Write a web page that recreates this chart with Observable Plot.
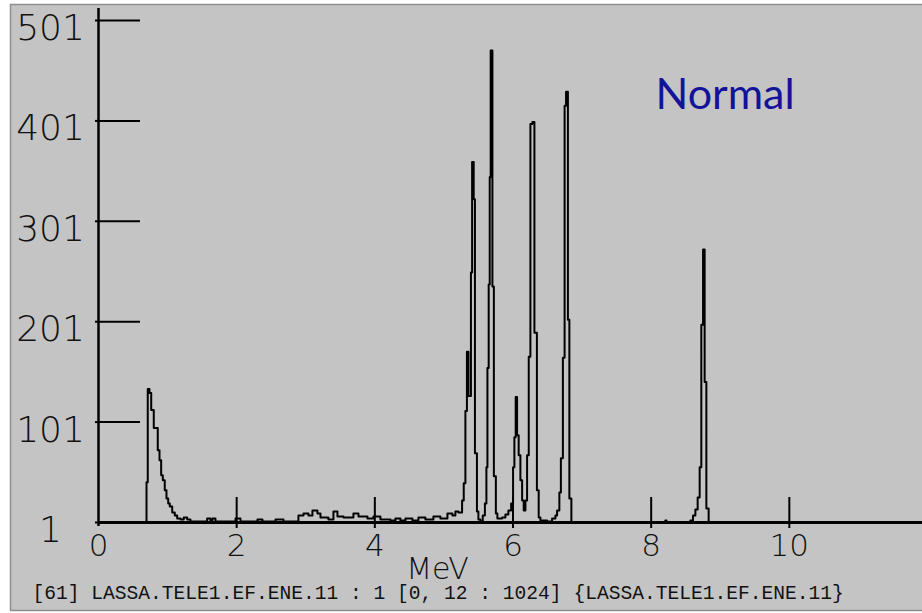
<!DOCTYPE html>
<html>
<head>
<meta charset="utf-8">
<script src="https://cdn.jsdelivr.net/npm/d3@7"></script>
<script src="https://cdn.jsdelivr.net/npm/@observablehq/plot@0.6"></script>
<style>
  html, body { margin: 0; padding: 0; background: #ffffff; }
  #chart svg { display: block; }
</style>
</head>
<body>
<div id="chart"></div>
<script>
// Spectrum: energy (MeV, left edge of each step) and counts
const energy = [
  0, 0.695, 0.713, 0.738, 0.763, 0.800, 0.858, 0.883, 0.907, 0.931,
  0.959, 0.984, 1.009, 1.032, 1.067, 1.104, 1.139, 1.187, 1.234, 1.284,
  1.331, 1.573, 1.621, 1.650, 1.693, 1.983, 2.055, 2.301, 2.373, 2.562,
  2.677, 2.894, 2.967, 3.039, 3.097, 3.169, 3.213, 3.328, 3.401, 3.459,
  3.546, 3.690, 3.763, 3.893, 3.980, 4.081, 4.226, 4.298, 4.370, 4.443,
  4.544, 4.631, 4.732, 4.848, 4.949, 5.051, 5.123, 5.166, 5.210, 5.263,
  5.287, 5.311, 5.333, 5.355, 5.391, 5.408, 5.431, 5.449, 5.478, 5.499,
  5.528, 5.562, 5.593, 5.615, 5.630, 5.648, 5.663, 5.677, 5.702, 5.723,
  5.752, 5.774, 5.842, 5.890, 5.933, 5.973, 6.001, 6.020, 6.039, 6.059,
  6.082, 6.107, 6.132, 6.155, 6.180, 6.204, 6.228, 6.252, 6.281, 6.310,
  6.346, 6.372, 6.397, 6.493, 6.566, 6.614, 6.638, 6.671, 6.693, 6.722,
  6.747, 6.768, 6.795, 6.816, 6.845, 8.205, 8.222, 8.567, 8.606, 8.640,
  8.673, 8.702, 8.726, 8.751, 8.774, 8.799, 8.832, 12
];
const counts = [
  1, 41, 134, 130, 113, 95, 73, 63, 48, 43,
  33, 25, 20, 17, 11, 8, 5, 4, 6, 4,
  2, 5, 2, 5, 2, 5, 2, 4, 2, 4,
  2, 8, 10, 8, 13, 10, 6, 4, 12, 7,
  6, 10, 7, 5, 7, 4, 3, 5, 3, 5,
  3, 6, 4, 7, 5, 10, 8, 12, 11, 23,
  40, 112, 171, 127, 250, 360, 323, 70, 12, 4,
  2, 8, 20, 56, 155, 238, 345, 471, 236, 47,
  10, 5, 6, 9, 13, 20, 56, 86, 126, 88,
  68, 43, 23, 13, 23, 68, 166, 398, 400, 190,
  33, 6, 3, 2, 5, 8, 13, 31, 65, 165,
  416, 430, 203, 25, 1, 3, 1, 3, 8, 14,
  26, 56, 198, 273, 141, 15, 1, 1
];
const xTicks = [0, 2, 4, 6, 8, 10];
const yTicks = [1, 101, 201, 301, 401, 501];
const xLabel = "MeV";
const tag = "Normal";
const caption = "[61] LASSA.TELE1.EF.ENE.11 : 1 [0, 12 : 1024] {LASSA.TELE1.EF.ENE.11}";

const data = energy.map((e, i) => ({e, c: counts[i]}));

const mono = "'Liberation Mono', monospace";
const thin = "'DejaVu Sans', sans-serif";

const chart = Plot.plot({
  width: 922,
  height: 613,
  marginLeft: 98,
  marginRight: 0,
  marginTop: 20,
  marginBottom: 91,
  x: {domain: [0, 12], range: [98, 927]},
  y: {domain: [1, 501]},
  style: {background: "#ffffff", overflow: "hidden"},
  marks: [
    Plot.frame({fill: "#c4c4c4", stroke: "#8e8e8e", strokeWidth: 1.5, insetLeft: -88, insetTop: -16, insetBottom: -88, insetRight: -2}),
    // y ticks (inward) and labels
    Plot.axisY(yTicks, {tickSize: -42, tickFormat: () => "", strokeWidth: 2, stroke: "#000", label: null}),
    Plot.axisY(yTicks, {tickSize: 3, tickFormat: () => "", strokeWidth: 2, stroke: "#000", label: null}),
    Plot.axisY(yTicks, {tickSize: 0, tickPadding: 48, textAnchor: "middle", dy: 8, fontSize: 36, fontFamily: thin, fontWeight: 200, fill: "#111", label: null, tickFormat: d => String(d)}),
    // x ticks (upward) and labels
    Plot.axisX(xTicks.slice(1), {tickSize: -25, tickFormat: () => "", strokeWidth: 2, stroke: "#000", label: null}),
    Plot.axisX(xTicks.slice(1), {tickSize: 6, tickFormat: () => "", strokeWidth: 2, stroke: "#000", label: null}),
    Plot.axisX(xTicks, {tickSize: 0, tickPadding: 11, fontSize: 31, fontFamily: thin, fontWeight: 200, fill: "#111", label: null, tickFormat: d => String(d)}),
    // axis lines
    Plot.ruleX([0], {strokeWidth: 2.5, stroke: "#000", insetTop: -12, insetBottom: -4}),
    Plot.ruleY([1], {strokeWidth: 3, stroke: "#000"}),
    // spectrum
    Plot.line(data, {x: "e", y: "c", curve: "step-after", stroke: "#000", strokeWidth: 2}),
    // texts
    Plot.text([xLabel], {text: d => d, frameAnchor: "bottom", dx: -73, dy: 56, fontSize: 30, fontFamily: thin, fontWeight: 200, fill: "#111"}),
    Plot.text([caption], {text: d => d, frameAnchor: "bottom-left", textAnchor: "start", dx: -66, dy: 76, fontSize: 19.6, fontFamily: mono, fill: "#111"}),
    Plot.text([tag], {text: d => d, frameAnchor: "top-right", textAnchor: "start", dx: -267, dy: 58, fontSize: 43, fontFamily: "Lato, 'Open Sans', sans-serif", fill: "#13139a"})
  ]
});
document.getElementById("chart").appendChild(chart);
</script>
</body>
</html>
